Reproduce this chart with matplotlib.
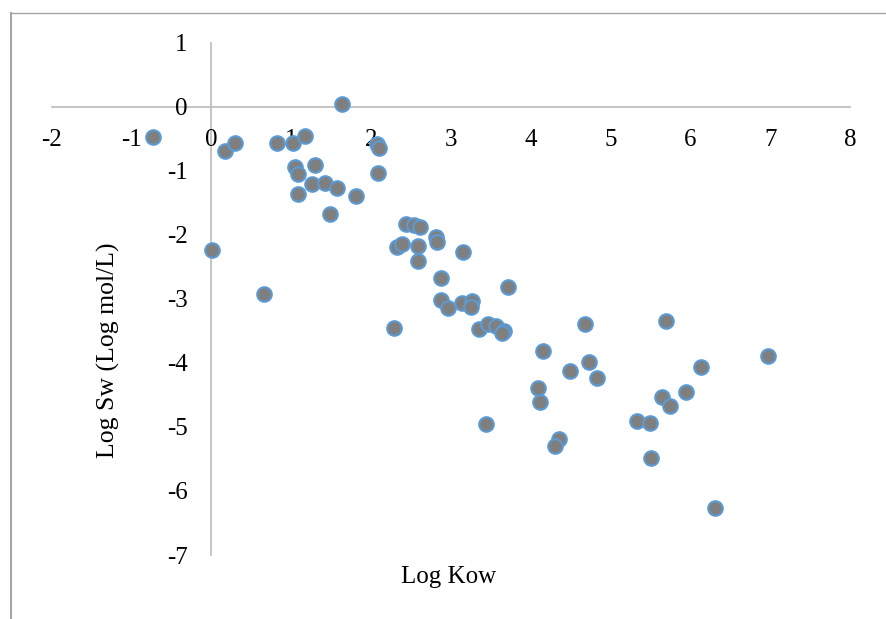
import matplotlib
matplotlib.use("Agg")
import matplotlib.pyplot as plt
from matplotlib.lines import Line2D

# Octanol-water partition coefficient vs. water solubility
log_kow = [
    -0.73, 1.64, 0.17, 0.29, 0.82, 1.02, 1.17, 2.08, 2.10, 1.05,
    1.08, 1.30, 2.09, 1.26, 1.42, 1.57, 1.09, 1.81, 1.48, 2.44,
    2.54, 2.61, 2.81, 2.83, 2.33, 2.39, 2.59, 2.59, 0.01, 0.66,
    2.88, 2.88, 2.96, 3.15, 3.71, 3.14, 3.27, 3.25, 3.35, 3.47,
    3.56, 3.67, 3.64, 4.68, 5.69, 4.16, 6.97, 4.73, 4.49, 6.13,
    4.83, 4.09, 4.12, 5.94, 5.64, 5.75, 3.44, 5.33, 5.49, 4.35,
    4.31, 5.51, 6.31, 2.29,
]
log_sw = [
    -0.48, 0.04, -0.69, -0.56, -0.56, -0.56, -0.46, -0.58, -0.64, -0.94,
    -1.05, -0.91, -1.03, -1.21, -1.19, -1.27, -1.36, -1.40, -1.68, -1.83,
    -1.85, -1.88, -2.03, -2.12, -2.19, -2.15, -2.17, -2.41, -2.23, -2.93,
    -2.68, -3.02, -3.14, -2.27, -2.82, -3.06, -3.04, -3.13, -3.47, -3.40,
    -3.42, -3.50, -3.53, -3.40, -3.34, -3.82, -3.90, -3.98, -4.12, -4.06,
    -4.24, -4.39, -4.61, -4.45, -4.53, -4.67, -4.96, -4.91, -4.94, -5.19,
    -5.30, -5.49, -6.27, -3.46,
]
x_ticks = [-2, -1, 0, 1, 2, 3, 4, 5, 6, 7, 8]
y_ticks = [1, 0, -1, -2, -3, -4, -5, -6, -7]

plt.rcParams["font.family"] = ["Liberation Serif", "DejaVu Serif"]
plt.rcParams["axes.unicode_minus"] = False

W, H = 886, 619
fig = plt.figure(figsize=(W / 100, H / 100), dpi=100)

left, right, top, bottom = 51.7, 850.0, 42.7, 555.0
ax = fig.add_axes([left / W, 1 - bottom / H, (right - left) / W, (bottom - top) / H])

ax.scatter(log_kow, log_sw, s=110, facecolor="#7F7F7F", edgecolor="#5B9BD5",
           linewidths=1.5, zorder=3, clip_on=False)

ax.set_xlim(-2, 8)
ax.set_ylim(-7, 1)
ax.set_xticks(x_ticks)
ax.set_yticks(y_ticks)

axis_grey = "#BFBFBF"
for side in ("top", "right"):
    ax.spines[side].set_visible(False)
for side in ("left", "bottom"):
    ax.spines[side].set_position(("data", 0))
    ax.spines[side].set_color(axis_grey)
    ax.spines[side].set_linewidth(1.3)
    ax.spines[side].set_zorder(1)

ax.tick_params(axis="x", length=0, pad=16, labelsize=18, colors="black")
ax.tick_params(axis="y", length=0, pad=17, labelsize=18, colors="black")
ax.patch.set_visible(False)

# Axis titles placed in figure coordinates
fig.text(449 / W, 1 - 577 / H, "Log Kow", ha="center", va="center", fontsize=18)
fig.text(108 / W, 1 - 350 / H, "Log Sw (Log mol/L)", ha="center", va="center",
         rotation=90, fontsize=18.5)

# Chart-area frame
border = "#A6A6A6"
fig.add_artist(Line2D([10.5 / W, 10.5 / W], [0, 1 - 12.5 / H],
                      transform=fig.transFigure, color=border, lw=1.5))
fig.add_artist(Line2D([10.5 / W, 1], [1 - 12.5 / H, 1 - 12.5 / H],
                      transform=fig.transFigure, color=border, lw=1.0))

fig.savefig("out.png", dpi=100)
